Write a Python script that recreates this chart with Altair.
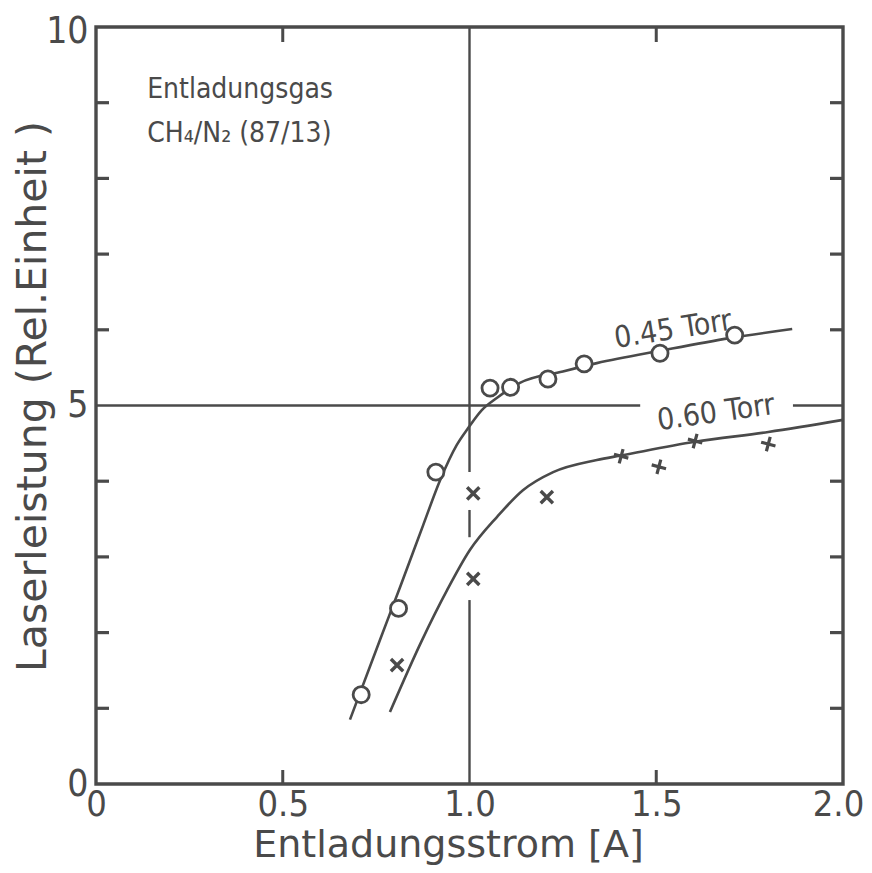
import altair as alt
import pandas as pd

# ---------------- data ----------------
# 0.45 Torr measurements (open circles)
circ_x = [0.71, 0.81, 0.91, 1.055, 1.11, 1.21, 1.307, 1.51, 1.71]
circ_y = [1.18, 2.32, 4.12, 5.23, 5.24, 5.35, 5.55, 5.69, 5.93]
# 0.60 Torr measurements (x marks)
cross_x = [0.806, 1.01, 1.01, 1.207]
cross_y = [1.57, 3.84, 2.71, 3.79]
# 0.60 Torr measurements (+ marks)
plus_x = [1.406, 1.507, 1.604, 1.80]
plus_y = [4.33, 4.19, 4.53, 4.49]
# hand-drawn fit curves
c45_x = [0.68, 0.76, 0.814, 0.876, 0.921, 0.966, 0.996, 1.033, 1.073, 1.135, 1.25, 1.341, 1.518, 1.697, 1.864]
c45_y = [0.85, 1.90, 2.60, 3.42, 4.01, 4.48, 4.70, 4.94, 5.10, 5.30, 5.45, 5.56, 5.73, 5.89, 6.01]
c60_x = [0.787, 0.873, 0.94, 1.001, 1.074, 1.143, 1.224, 1.341, 1.406, 1.604, 1.8, 2.0]
c60_y = [0.95, 1.90, 2.56, 3.09, 3.53, 3.88, 4.12, 4.28, 4.34, 4.52, 4.65, 4.81]
# reference lines (x = 1.0 broken around marks, y = 5 broken around label)
vseg_y1 = [10.0, 3.62, 2.43]
vseg_y2 = [4.12, 3.26, 0.0]
hseg_x1 = [0.0, 1.866]
hseg_x2 = [1.457, 2.0]
# tick positions
y_minor = [1, 2, 3, 4, 6, 7, 8, 9]
x_minor = [0.5, 1.5]
x_labels = [0, 0.5, 1.0, 1.5, 2.0]
y_labels = [0, 5, 10]
# annotations
curve_labels = ["0.45 Torr", "0.60 Torr"]
curve_lab_x = [1.545, 1.66]
curve_lab_y = [6.0, 4.9]
info_lines = ["Entladungsgas", "CH\u2084/N\u2082  (87/13)"]
info_x = [0.137, 0.137]
info_y = [9.06, 8.48]

INK = "#4a4a4a"
COND = "DejaVu Sans Condensed, DejaVu Sans"
FONT = "DejaVu Sans"
W, H = 747, 757

xs = alt.Scale(domain=[0, 2], nice=False, zero=False)
ys = alt.Scale(domain=[0, 10], nice=False, zero=False)

xax = alt.Axis(values=x_labels, labelExpr="datum.value == 0 ? '0' : format(datum.value, '.1f')",
               labelFont=COND, labelFontSize=36, labelColor=INK, labelPadding=3,
               labelFlush=False, domain=False, ticks=False, grid=False,
               labelOffset={"condition": {"test": "datum.value == 2", "value": -5}, "value": 0},
               title="Entladungsstrom [A]", titleFont=FONT, titleFontSize=38,
               titleFontWeight="normal", titleColor=INK, titleX=352, titleY=72,
               titleBaseline="alphabetic", titleAlign="center")
yax = alt.Axis(values=y_labels, format="d", labelFont=COND, labelFontSize=37,
               labelColor=INK, labelPadding=8, labelFlush=False, domain=False,
               labelOffset={"condition": {"test": "datum.value == 10", "value": 4}, "value": 0},
               ticks=False, grid=False,
               title="Laserleistung (Rel.Einheit )", titleFont=FONT,
               titleFontSize=41, titleFontWeight="normal", titleColor=INK,
               titleX=-51, titleY=369, titleAngle=270, titleBaseline="alphabetic",
               titleAlign="center")

base_x = alt.X("x:Q", scale=xs, axis=xax)
base_y = alt.Y("y:Q", scale=ys, axis=yax)

# invisible layer carrying the axes
axes_df = pd.DataFrame({"x": [0, 2], "y": [0, 10]})
axes_layer = alt.Chart(axes_df).mark_point(opacity=0).encode(x=base_x, y=base_y)

# reference lines
vdf = pd.DataFrame({"x": [1.0] * len(vseg_y1), "y": vseg_y1, "y2": vseg_y2})
vlines = alt.Chart(vdf).mark_rule(color=INK, strokeWidth=2.4).encode(
    x=alt.X("x:Q", scale=xs), y=alt.Y("y:Q", scale=ys), y2="y2:Q")
hdf = pd.DataFrame({"x": hseg_x1, "x2": hseg_x2, "y": [5.0] * len(hseg_x1)})
hlines = alt.Chart(hdf).mark_rule(color=INK, strokeWidth=2.4).encode(
    x=alt.X("x:Q", scale=xs), x2="x2:Q", y=alt.Y("y:Q", scale=ys))

# inward ticks
ly = pd.DataFrame({"y": y_minor})
left_ticks = alt.Chart(ly).mark_rule(color=INK, strokeWidth=3.2).encode(
    x=alt.value(0), x2=alt.value(13), y=alt.Y("y:Q", scale=ys))
right_ticks = alt.Chart(ly).mark_rule(color=INK, strokeWidth=3.2).encode(
    x=alt.value(W - 13), x2=alt.value(W), y=alt.Y("y:Q", scale=ys))
tx = pd.DataFrame({"x": x_minor})
bottom_ticks = alt.Chart(tx).mark_rule(color=INK, strokeWidth=3).encode(
    x=alt.X("x:Q", scale=xs), y=alt.value(H - 14), y2=alt.value(H))
top_ticks = alt.Chart(tx).mark_rule(color=INK, strokeWidth=3).encode(
    x=alt.X("x:Q", scale=xs), y=alt.value(0), y2=alt.value(15))

# fitted curves
c45 = pd.DataFrame({"x": c45_x, "y": c45_y})
c60 = pd.DataFrame({"x": c60_x, "y": c60_y})
line45 = alt.Chart(c45).mark_line(color=INK, strokeWidth=2.6, interpolate="monotone").encode(
    x=alt.X("x:Q", scale=xs), y=alt.Y("y:Q", scale=ys))
line60 = alt.Chart(c60).mark_line(color=INK, strokeWidth=2.6, interpolate="monotone").encode(
    x=alt.X("x:Q", scale=xs), y=alt.Y("y:Q", scale=ys))

# markers
cdf = pd.DataFrame({"x": circ_x, "y": circ_y})
circles = alt.Chart(cdf).mark_point(shape="circle", size=260, filled=True, fill="white",
                                    stroke=INK, strokeWidth=2.8, opacity=1).encode(
    x=alt.X("x:Q", scale=xs), y=alt.Y("y:Q", scale=ys))
xdf = pd.DataFrame({"x": cross_x, "y": cross_y})
crosses = alt.Chart(xdf).mark_point(shape="M-1,-1L1,1M-1,1L1,-1", size=150, filled=False,
                                    stroke=INK, strokeWidth=3.4, opacity=1).encode(
    x=alt.X("x:Q", scale=xs), y=alt.Y("y:Q", scale=ys))
pdf_ = pd.DataFrame({"x": plus_x, "y": plus_y})
pluses = alt.Chart(pdf_).mark_point(shape="M-1,0L1,0M0,-1L0,1", size=220, filled=False,
                                    angle=15, stroke=INK, strokeWidth=3.2, opacity=1).encode(
    x=alt.X("x:Q", scale=xs), y=alt.Y("y:Q", scale=ys))

# curve labels
ldf = pd.DataFrame({"x": curve_lab_x, "y": curve_lab_y, "t": curve_labels})
lab45 = alt.Chart(ldf.iloc[[0]]).mark_text(font=COND, fontSize=30, color=INK, angle=351,
                                           align="center", baseline="middle").encode(
    x=alt.X("x:Q", scale=xs), y=alt.Y("y:Q", scale=ys), text="t:N")
lab60 = alt.Chart(ldf.iloc[[1]]).mark_text(font=COND, fontSize=30, color=INK, angle=352,
                                           align="center", baseline="middle").encode(
    x=alt.X("x:Q", scale=xs), y=alt.Y("y:Q", scale=ys), text="t:N")

idf = pd.DataFrame({"x": info_x, "y": info_y, "t": info_lines})
info = alt.Chart(idf).mark_text(font=COND, fontSize=28, color=INK, align="left",
                                baseline="alphabetic").encode(
    x=alt.X("x:Q", scale=xs), y=alt.Y("y:Q", scale=ys), text="t:N")

chart = alt.layer(
    axes_layer, vlines, hlines, left_ticks, right_ticks, bottom_ticks, top_ticks,
    line45, line60, circles, crosses, pluses, lab45, lab60, info
).properties(
    width=W, height=H,
    autosize=alt.AutoSizeParams(type="none"),
    padding={"left": 88, "top": 19, "right": 21, "bottom": 81},
    background="white",
).configure_view(stroke=INK, strokeWidth=3.4)

chart.save("out.html", embed_options={"renderer": "svg", "actions": False})
